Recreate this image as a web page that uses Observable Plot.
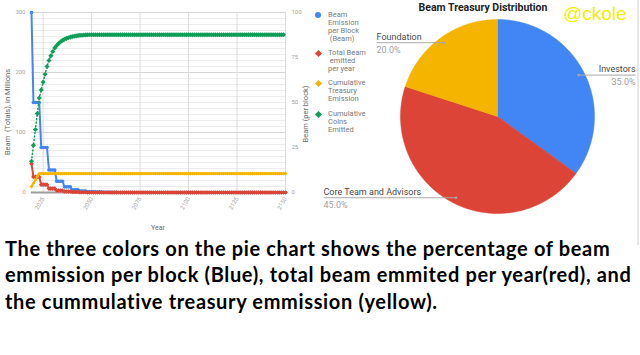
<!DOCTYPE html>
<html><head><meta charset="utf-8">
<script src="https://cdn.jsdelivr.net/npm/d3@7"></script>
<script src="https://cdn.jsdelivr.net/npm/@observablehq/plot@0.6"></script>
<style>
html,body{margin:0;padding:0;background:#fff;}
#root{position:relative;width:640px;height:355px;overflow:hidden;font-family:Roboto,sans-serif;}
.abs{position:absolute;white-space:nowrap;}
</style></head>
<body><div id="root"></div>
<script>
// ---------- DATA ----------
const years = d3.range(2019, 2151); // 2019 .. 2150
const seriesNames = ["Beam Emission per Block (Beam)", "Total Beam emitted per year", "Cumulative Treasury Emission", "Cumulative Coins Emitted"];
const seriesColors = ["#4285f4", "#db4437", "#f4b400", "#0f9d58"];
// Beam per block (right axis)
const perBlock = [100,
  50,50,50,50, 25,25,25,25, 12.5,12.5,12.5,12.5, 6.25,6.25,6.25,6.25,
  3.13,3.13,3.13,3.13, 1.56,1.56,1.56,1.56, 0.78,0.78,0.78,0.78, 0.39,0.39,0.39,0.39,
  0.2,0.2,0.2,0.2, 0.1,0.1,0.1,0.1, 0.05,0.05,0.05,0.05, 0.02,0.02,0.02,0.02,
  0.01,0.01,0.01,0.01,
  0,0,0,0,0,0,0,0,0,0, 0,0,0,0,0,0,0,0,0,0, 0,0,0,0,0,0,0,0,0,0, 0,0,0,0,0,0,0,0,0,0,
  0,0,0,0,0,0,0,0,0,0, 0,0,0,0,0,0,0,0,0,0, 0,0,0,0,0,0,0,0,0,0, 0,0,0,0,0,0,0,0,0];
// Total Beam emitted per year (millions, left axis)
const perYear = [48,
  26,26,26,26, 13,13,13,13, 6.5,6.5,6.5,6.5, 3.3,3.3,3.3,3.3,
  1.6,1.6,1.6,1.6, 0.8,0.8,0.8,0.8, 0.4,0.4,0.4,0.4, 0.2,0.2,0.2,0.2,
  0.1,0.1,0.1,0.1, 0.05,0.05,0.05,0.05, 0.03,0.03,0.03,0.03, 0.02,0.02,0.02,0.02,
  0.01,0.01,0.01,0.01,
  0,0,0,0,0,0,0,0,0,0, 0,0,0,0,0,0,0,0,0,0, 0,0,0,0,0,0,0,0,0,0, 0,0,0,0,0,0,0,0,0,0,
  0,0,0,0,0,0,0,0,0,0, 0,0,0,0,0,0,0,0,0,0, 0,0,0,0,0,0,0,0,0,0, 0,0,0,0,0,0,0,0,0];
// Cumulative treasury emission (millions)
const treasury = [10, 15.5, 21, 26.5,
  31.5,31.5,31.5,31.5,31.5,31.5,31.5,31.5,31.5,31.5, 31.5,31.5,31.5,31.5,31.5,31.5,31.5,31.5,31.5,31.5,
  31.5,31.5,31.5,31.5,31.5,31.5,31.5,31.5,31.5,31.5, 31.5,31.5,31.5,31.5,31.5,31.5,31.5,31.5,31.5,31.5,
  31.5,31.5,31.5,31.5,31.5,31.5,31.5,31.5,31.5,31.5, 31.5,31.5,31.5,31.5,31.5,31.5,31.5,31.5,31.5,31.5,
  31.5,31.5,31.5,31.5,31.5,31.5,31.5,31.5,31.5,31.5, 31.5,31.5,31.5,31.5,31.5,31.5,31.5,31.5,31.5,31.5,
  31.5,31.5,31.5,31.5,31.5,31.5,31.5,31.5,31.5,31.5, 31.5,31.5,31.5,31.5,31.5,31.5,31.5,31.5,31.5,31.5,
  31.5,31.5,31.5,31.5,31.5,31.5,31.5,31.5,31.5,31.5, 31.5,31.5,31.5,31.5,31.5,31.5,31.5,31.5,31.5,31.5,
  31.5,31.5,31.5,31.5,31.5,31.5,31.5,31.5];
// Cumulative coins emitted (millions)
const cumulative = [52, 78.6, 105, 131.5, 157.5, 171, 184, 197, 210, 220,
  228, 235, 241, 245, 248.5, 251.3, 253.5, 255.3, 256.8, 258,
  259, 259.8, 260.5, 261, 261.5, 261.9, 262.2, 262.5, 262.7, 262.9, 263,
  263,263,263,263,263,263,263,263,263,263, 263,263,263,263,263,263,263,263,263,263,
  263,263,263,263,263,263,263,263,263,263, 263,263,263,263,263,263,263,263,263,263,
  263,263,263,263,263,263,263,263,263,263, 263,263,263,263,263,263,263,263,263,263,
  263,263,263,263,263,263,263,263,263,263, 263,263,263,263,263,263,263,263,263,263,
  263,263,263,263,263,263,263,263,263,263, 263,263,263,263,263,263,263,263,263,263];
const leftTicks = [0, 100, 200, 300];
const rightTicks = [0, 25, 50, 75, 100];
const yearTicks = [2025, 2050, 2075, 2100, 2125, 2150];

const pieLabels = ["Investors", "Core Team and Advisors", "Foundation"];
const pieValues = [35, 45, 20];
const pieColors = ["#4285f4", "#db4437", "#f4b400"];

// ---------- LINE CHART ----------
const root = document.getElementById("root");
const rows = arr => arr.map((v, i) => ({year: years[i], v})).filter(d => d.year !== undefined && d.v !== undefined);
const blue = rows(perBlock), red = rows(perYear), yellow = rows(treasury), green = rows(cumulative);
const perBlockToTotals = 3; // right axis 0..100 maps onto left axis 0..300

const lineChart = Plot.plot({
  width: 310, height: 235,
  marginLeft: 31, marginRight: 25, marginTop: 12, marginBottom: 43,
  style: {position: "absolute", left: "0px", top: "0px", overflow: "visible", background: "transparent", color: "#a3a3a3", fontFamily: "Roboto, sans-serif"},
  x: {domain: [2019, 2150]},
  y: {domain: [0, 300]},
  marks: [
    Plot.gridY(d3.range(0, 301, 10), {stroke: "#ececec", strokeOpacity: 1}),
    Plot.gridY(leftTicks, {stroke: "#d6d6d6", strokeOpacity: 1}),
    Plot.gridX(yearTicks, {stroke: "#dcdcdc", strokeOpacity: 1}),
    Plot.ruleY([0], {stroke: "#9e9e9e", strokeWidth: 2}),
    Plot.axisY({ticks: leftTicks, tickSize: 0, tickPadding: 6, fontSize: 6, label: null}),
    Plot.axisY({anchor: "right", ticks: rightTicks.map(t => t * perBlockToTotals), tickFormat: d => String(d / perBlockToTotals), tickSize: 0, tickPadding: 6, fontSize: 6, label: null}),
    Plot.axisX({ticks: yearTicks, tickFormat: d => String(d), tickRotate: -60, tickSize: 0, tickPadding: 5, fontSize: 6, label: null}),
    // blue
    Plot.line(blue, {x: "year", y: d => d.v * perBlockToTotals, stroke: seriesColors[0], strokeWidth: 2}),
    Plot.dot(blue, {x: "year", y: d => d.v * perBlockToTotals, r: 1.8, fill: seriesColors[0]}),
    // red
    Plot.line(red, {x: "year", y: "v", stroke: seriesColors[1], strokeWidth: 2}),
    Plot.dot(red, {x: "year", y: "v", symbol: "diamond2", r: 2.1, fill: seriesColors[1]}),
    // yellow
    Plot.line(yellow, {x: "year", y: "v", stroke: seriesColors[2], strokeWidth: 2}),
    Plot.dot(yellow, {x: "year", y: "v", symbol: "diamond2", r: 1.7, fill: seriesColors[2]}),
    // green
    Plot.line(green, {x: "year", y: "v", stroke: seriesColors[3], strokeWidth: 1.5, strokeDasharray: "1,2.5"}),
    Plot.dot(green, {x: "year", y: "v", symbol: "diamond2", r: 2.3, fill: seriesColors[3]})
  ]
});
root.appendChild(lineChart);

function addText(txt, css) {
  const d = document.createElement("div");
  d.className = "abs";
  d.innerHTML = txt;
  Object.assign(d.style, css);
  root.appendChild(d);
  return d;
}
// axis titles
addText("Beam &nbsp;(Totals), in Millions", {left: "7px", top: "112px", fontSize: "7.5px", color: "#6b6b6b", transform: "translate(-50%,-50%) rotate(-90deg)"});
addText("Beam (per block)", {left: "305px", top: "114px", fontSize: "7.5px", color: "#6b6b6b", transform: "translate(-50%,-50%) rotate(-90deg)"});
addText("Year", {left: "158px", top: "228px", fontSize: "7px", color: "#6b6b6b", transform: "translate(-50%,-50%)"});

// legend
const legendLines = [["Beam", "Emission", "per Block", "&nbsp;(Beam)"], ["Total Beam", "&nbsp;emitted", "per year"], ["Cumulative", "Treasury", "Emission"], ["Cumulative", "Coins", "Emitted"]];
const legendTop = [15, 53, 83, 114];
legendLines.forEach((lines, i) => {
  const sym = document.createElement("div");
  sym.className = "abs";
  const s = i === 0 ? 6 : 5;
  Object.assign(sym.style, {left: (318 - s / 2) + "px", top: (legendTop[i] - s / 2) + "px", width: s + "px", height: s + "px", background: seriesColors[i],
    borderRadius: i === 0 ? "50%" : "0", transform: i === 0 ? "none" : "rotate(45deg)"});
  root.appendChild(sym);
  addText(lines.join("<br>"), {left: "328px", top: (legendTop[i] - 4) + "px", fontSize: "7.5px", lineHeight: "8px", color: "#7a7a7a"});
});

// ---------- PIE CHART ----------
const arcs = d3.pie().sort(null).value(d => d)(pieValues);
const pieMarks = [];
arcs.forEach((a, i) => {
  const pts = [{x: 0, y: 0}];
  const n = Math.max(2, Math.ceil((a.endAngle - a.startAngle) / 0.01));
  for (let k = 0; k <= n; k++) {
    const t = a.startAngle + (a.endAngle - a.startAngle) * k / n;
    pts.push({x: Math.sin(t), y: Math.cos(t)});
  }
  pts.push({x: 0, y: 0});
  pieMarks.push(Plot.line(pts, {x: "x", y: "y", fill: pieColors[i], stroke: pieColors[i], strokeWidth: 0.5, curve: "linear"}));
});
// label layout (x of label text in pie units, anchor)
const labelX = [1.423, -1.794, -1.247];
const labelAnchor = ["end", "start", "start"];
const leaders = arcs.map((a, i) => {
  const m = (a.startAngle + a.endAngle) / 2;
  return {name: pieLabels[i], pct: pieValues[i].toFixed(1) + "%", dx: 0.94 * Math.sin(m), dy: 0.94 * Math.cos(m), lx: labelX[i], anchor: labelAnchor[i]};
});
pieMarks.push(
  Plot.link(leaders, {x1: "dx", y1: "dy", x2: "lx", y2: "dy", stroke: "#a8a8a8", strokeWidth: 1}),
  Plot.dot(leaders, {x: "dx", y: "dy", r: 1.3, fill: "#a8a8a8"}),
  Plot.text(leaders.filter(d => d.anchor === "end"), {x: "lx", y: "dy", text: "name", textAnchor: "end", dy: -6, fontSize: 9, fill: "#4a4a4a"}),
  Plot.text(leaders.filter(d => d.anchor === "end"), {x: "lx", y: "dy", text: "pct", textAnchor: "end", dy: 7, fontSize: 9, fill: "#a0a0a0"}),
  Plot.text(leaders.filter(d => d.anchor === "start"), {x: "lx", y: "dy", text: "name", textAnchor: "start", dy: -6, fontSize: 9, fill: "#4a4a4a"}),
  Plot.text(leaders.filter(d => d.anchor === "start"), {x: "lx", y: "dy", text: "pct", textAnchor: "start", dy: 7, fontSize: 9, fill: "#a0a0a0"})
);
const pie = Plot.plot({
  width: 340, height: 235, margin: 0,
  style: {position: "absolute", left: "300px", top: "0px", overflow: "visible", background: "transparent", fontFamily: "Roboto, sans-serif"},
  x: {domain: [-1, 1], range: [100, 294], axis: null},
  y: {domain: [-1, 1], range: [213, 19], axis: null},
  marks: pieMarks
});
root.appendChild(pie);

addText("Beam Treasury Distribution", {left: "483px", top: "7px", fontSize: "10.5px", fontWeight: "bold", color: "#222", transform: "translate(-50%,-50%)"});
addText("@ckole", {left: "563px", top: "4px", fontSize: "19px", lineHeight: "19px", color: "#f5ee00", fontFamily: "'Liberation Sans', Arial, sans-serif"});

// right edge line
const edge = document.createElement("div");
edge.className = "abs";
Object.assign(edge.style, {left: "637px", top: "0px", width: "2px", height: "245px", background: "#e6e6e6"});
root.appendChild(edge);

// caption
addText("The three colors on the pie chart shows the percentage of beam<br>emmission per block (Blue), total beam emmited per year(red), and<br>the cummulative treasury emmission (yellow).",
  {left: "5px", top: "235px", fontSize: "20px", lineHeight: "26.4px", letterSpacing: "0.65px", fontWeight: "bold", color: "#000", fontFamily: "Lato, sans-serif"});
</script>
</body></html>
